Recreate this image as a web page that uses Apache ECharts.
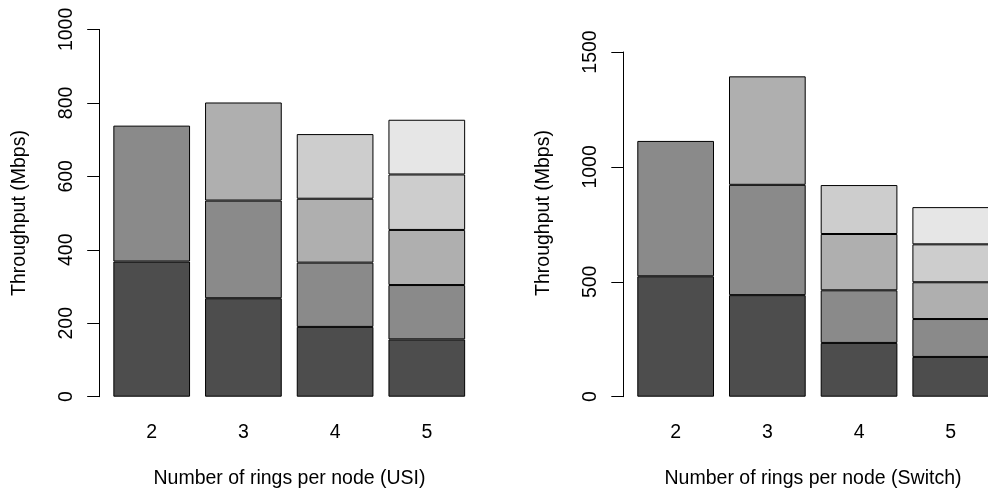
<!DOCTYPE html>
<html>
<head>
<meta charset="utf-8">
<script src="https://cdn.jsdelivr.net/npm/echarts@6/dist/echarts.min.js"></script>
<style>
html,body{margin:0;padding:0;background:#fff;}
#chart{width:988px;height:494px;}
</style>
</head>
<body>
<div id="chart"></div>
<script>
// ---- data ----
var categories = ['2', '3', '4', '5'];

// USI panel: throughput per ring layer (bottom to top), Mbps
var usiRing1 = [368, 268, 190, 156];
var usiRing2 = [370, 266, 175, 148];
var usiRing3 = [null, 267, 174, 150];
var usiRing4 = [null, null, 176, 151];
var usiRing5 = [null, null, null, 149];

// Switch panel
var swRing1 = [524, 442, 234, 173];
var swRing2 = [589, 480, 229, 165];
var swRing3 = [null, 472, 245, 160];
var swRing4 = [null, null, 213, 165];
var swRing5 = [null, null, null, 162];

var usiTicks = [0, 200, 400, 600, 800, 1000];
var swTicks = [0, 500, 1000, 1500];

var xTitleUsi = 'Number of rings per node (USI)';
var xTitleSw = 'Number of rings per node (Switch)';
var yTitle = 'Throughput (Mbps)';

// ---- styling ----
var grays = ['#4D4D4D', '#8A8A8A', '#AFAFAF', '#CDCDCD', '#E6E6E6'];
var FONT = "'Liberation Sans', Arial, Helvetica, sans-serif";
var FS = 19.5;

function yAxisFor(ticks, gridIndex, offset) {
  return {
    type: 'value', gridIndex: gridIndex,
    min: ticks[0], max: ticks[ticks.length - 1], interval: ticks[1] - ticks[0],
    offset: offset,
    axisLine: {show: true, lineStyle: {color: '#000', width: 1}},
    axisTick: {show: true, length: 12, lineStyle: {color: '#000', width: 1}},
    splitLine: {show: false},
    axisLabel: {rotate: 90, margin: 23, color: '#000', fontSize: FS, fontFamily: FONT,
      formatter: function (v) { return String(v); }}
  };
}
function xAxisFor(gridIndex) {
  return {
    type: 'category', gridIndex: gridIndex, data: categories,
    axisLine: {show: false}, axisTick: {show: false},
    axisLabel: {margin: 26, color: '#000', fontSize: FS, fontFamily: FONT}
  };
}
function seriesFor(layers, idx, stack) {
  return layers.map(function (d, i) {
    return {
      type: 'bar', xAxisIndex: idx, yAxisIndex: idx, stack: stack,
      data: d, barWidth: 76.7,
      itemStyle: {color: grays[i], borderColor: '#000', borderWidth: 1},
      silent: true, animation: false
    };
  });
}

var chart = echarts.init(document.getElementById('chart'), null, {renderer: 'canvas'});
var option = {
  backgroundColor: '#fff',
  animation: false,
  grid: [
    {left: 105.85, width: 366.8, top: 29.4, height: 367.3, outerBoundsMode: 'none', containLabel: false},
    {left: 629.8, width: 366.8, top: 52, height: 344.7, outerBoundsMode: 'none', containLabel: false}
  ],
  xAxis: [xAxisFor(0), xAxisFor(1)],
  yAxis: [yAxisFor(usiTicks, 0, 6.65), yAxisFor(swTicks, 1, 6.5)],
  series: seriesFor([usiRing1, usiRing2, usiRing3, usiRing4, usiRing5], 0, 'usi')
    .concat(seriesFor([swRing1, swRing2, swRing3, swRing4, swRing5], 1, 'sw')),
  graphic: [
    {type: 'text', x: 289.5, y: 479, silent: true,
     style: {text: xTitleUsi, align: 'center', verticalAlign: 'middle', textAlign: 'center', textVerticalAlign: 'middle', fontSize: FS, fontFamily: FONT, fill: '#000'}},
    {type: 'text', x: 813, y: 479, silent: true,
     style: {text: xTitleSw, align: 'center', verticalAlign: 'middle', textAlign: 'center', textVerticalAlign: 'middle', fontSize: FS, fontFamily: FONT, fill: '#000'}},
    {type: 'text', x: 20, y: 213, rotation: Math.PI / 2, silent: true,
     style: {text: yTitle, align: 'center', verticalAlign: 'middle', textAlign: 'center', textVerticalAlign: 'middle', fontSize: FS, fontFamily: FONT, fill: '#000'}},
    {type: 'text', x: 543.5, y: 213, rotation: Math.PI / 2, silent: true,
     style: {text: yTitle, align: 'center', verticalAlign: 'middle', textAlign: 'center', textVerticalAlign: 'middle', fontSize: FS, fontFamily: FONT, fill: '#000'}}
  ]
};
chart.setOption(option);
</script>
</body>
</html>
